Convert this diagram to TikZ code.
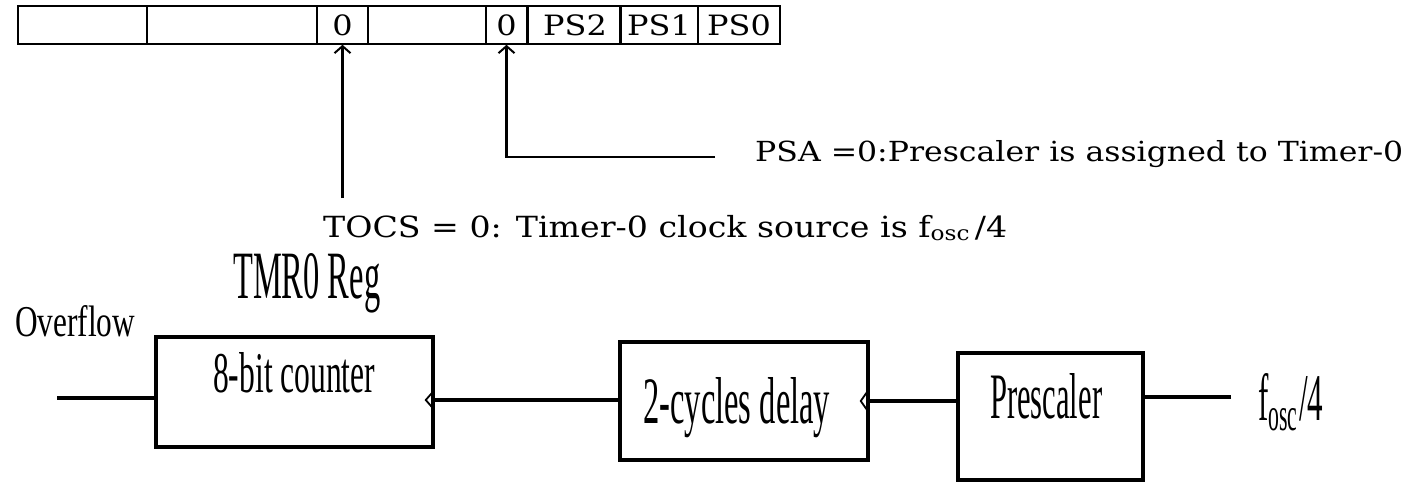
\documentclass[tikz,border=0pt]{standalone}
\usepackage{fontspec}
\usepackage{graphicx}
\setmainfont{DejaVu Serif}
\newfontfamily\condfont{Liberation Serif}
\newfontfamily\widefont[FakeStretch=1.14]{DejaVu Serif}
\usetikzlibrary{arrows.meta}
\newcommand\fitto[3]{\resizebox{#1pt}{#2pt}{\condfont #3}}
\newcommand\widto[2]{\resizebox{#1pt}{!}{\widefont\fontsize{28}{30}\selectfont #2}}
\begin{document}
\begin{tikzpicture}[x=1pt,y=-1pt,
  cell/.style={draw, line width=1.6pt, minimum height=38pt, inner sep=0pt, font=\widefont\fontsize{28}{30}\selectfont},
  blockbox/.style={draw, line width=3.5pt, inner sep=0pt},
  lbl/.style={inner sep=0pt, anchor=base west},
  wire/.style={line width=3.5pt},
  ptr/.style={line width=2.6pt, -{Straight Barb[length=7pt,width=16pt,line width=2pt]}},
  note/.style={inner sep=0pt, anchor=base west}]
\useasboundingbox (0,0) rectangle (1412,483);
% register
\node[cell, minimum width=129pt] (c1) at (82.5,25) {};
\node[cell, minimum width=170pt] (c2) at (232,25) {};
\node[cell, minimum width=51pt]  (c3) at (342.5,25) {0};
\node[cell, minimum width=118pt] (c4) at (427,25) {};
\node[cell, minimum width=41pt]  (c5) at (506.5,25) {0};
\node[cell, minimum width=93pt]  (c6) at (575,25) {PS2};
\node[cell, minimum width=78pt]  (c7) at (659,25) {PS1};
\node[cell, minimum width=82pt]  (c8) at (739,25) {PS0};
% pointers
\coordinate (t0) at (342.5,198);
\coordinate (p0) at (715,157);
\draw[ptr] (t0) -- (c3.south);
\draw[ptr] (p0) -| (c5.south);
\node[note] (psa) at (755,161) {\widto{648}{PSA =0:Prescaler is assigned to Timer-0}};
\node[note] (tocs) at (323,237) {\widto{684}{TOCS~=~0: Timer-0 clock source is f\textsubscript{osc}\,/4}};
% blocks
\node[blockbox, minimum width=277pt, minimum height=110pt] (cnt) at (294.5,392) {};
\node[blockbox, minimum width=248pt, minimum height=118pt] (dly) at (744,401) {};
\node[blockbox, minimum width=185pt, minimum height=127pt] (pre) at (1050.5,416.5) {};
\node[lbl] (cntT) at (213,392) {\fitto{162}{40}{8-bit counter}};
\node[lbl] (dlyT) at (643,423) {\fitto{187}{46}{2-cycles delay}};
\node[lbl] (preT) at (990,418) {\fitto{112}{45}{Prescaler}};
\node[lbl] (tmrT) at (233,298) {\fitto{147}{45}{TMR0 Reg}};
\node[lbl] (ovfT) at (15,336) {\fitto{120}{31}{Overflow}};
\node[lbl] (foscT) at (1258,420) {\fitto{65}{47}{f\textsubscript{osc}/4}};
% wires
\coordinate (ov) at (57,398);
\coordinate (fin) at (1231,397);
\coordinate (l1) at (0,400);
\coordinate (l2) at (0,401);
\draw[wire] (ov) -- (ov -| cnt.west);
\draw[wire] (dly.west |- l1) -- (cnt.east |- l1);
\draw[wire] (pre.west |- l2) -- (dly.east |- l2);
\draw[wire] (fin) -- (fin -| pre.east);
% input marks
\draw[line width=1.8pt] ([xshift=-2pt,yshift=-8pt]cnt.east |- l1) -- ([xshift=-9pt]cnt.east |- l1) -- ([xshift=-2pt,yshift=8pt]cnt.east |- l1);
\draw[line width=1.8pt] ([xshift=-2pt,yshift=-10pt]dly.east |- l2) -- ([xshift=-9pt]dly.east |- l2) -- ([xshift=-2pt,yshift=10pt]dly.east |- l2);
\end{tikzpicture}
\end{document}
